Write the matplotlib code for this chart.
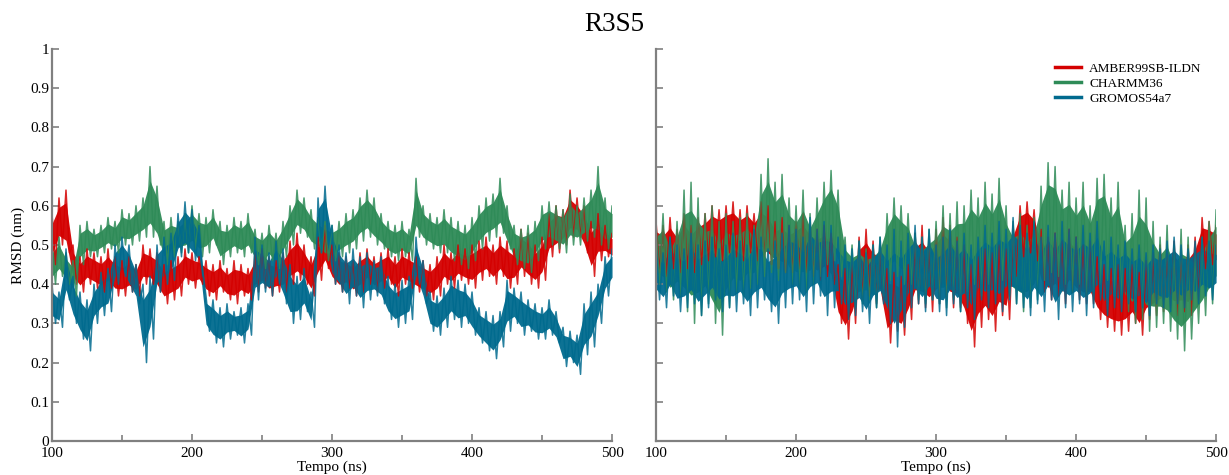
import numpy as np
import matplotlib
matplotlib.use('Agg')
import matplotlib.pyplot as plt

# Tempo (ns): pontos a cada 5 ns; os valores "hi" e "lo" são os picos e vales
tempo = list(range(100, 501, 5))

# Painel esquerdo
amber_l_hi = [0.58, 0.62, 0.64, 0.50, 0.47, 0.49, 0.48, 0.47, 0.49, 0.47, 0.46, 0.47, 0.45, 0.50, 0.49, 0.48,
              0.45, 0.46, 0.47, 0.49, 0.48, 0.47, 0.46, 0.45, 0.46, 0.44, 0.46, 0.45, 0.44, 0.48, 0.49, 0.47,
              0.46, 0.48, 0.51, 0.53, 0.50, 0.47, 0.52, 0.55, 0.50, 0.48, 0.47, 0.46, 0.48, 0.49, 0.47, 0.48,
              0.49, 0.47, 0.49, 0.48, 0.47, 0.46, 0.45, 0.47, 0.50, 0.48, 0.50, 0.49, 0.50, 0.51, 0.52, 0.50,
              0.52, 0.51, 0.49, 0.54, 0.53, 0.50, 0.52, 0.58, 0.60, 0.59, 0.64, 0.62, 0.60, 0.56, 0.58, 0.55, 0.53]
amber_l_lo = [0.45, 0.50, 0.48, 0.40, 0.38, 0.40, 0.39, 0.38, 0.39, 0.37, 0.37, 0.38, 0.37, 0.40, 0.40, 0.38,
              0.35, 0.36, 0.37, 0.40, 0.39, 0.40, 0.37, 0.36, 0.38, 0.36, 0.35, 0.37, 0.36, 0.38, 0.39, 0.37,
              0.38, 0.38, 0.40, 0.41, 0.40, 0.37, 0.41, 0.44, 0.40, 0.38, 0.39, 0.37, 0.38, 0.40, 0.38, 0.39,
              0.40, 0.37, 0.40, 0.39, 0.38, 0.37, 0.36, 0.37, 0.40, 0.39, 0.41, 0.40, 0.39, 0.41, 0.42, 0.40,
              0.42, 0.39, 0.40, 0.42, 0.40, 0.39, 0.41, 0.47, 0.48, 0.50, 0.52, 0.52, 0.48, 0.42, 0.46, 0.47, 0.46]
charmm_l_hi = [0.50, 0.52, 0.48, 0.46, 0.55, 0.56, 0.54, 0.55, 0.57, 0.56, 0.59, 0.58, 0.60, 0.62, 0.70, 0.65,
               0.56, 0.57, 0.56, 0.58, 0.60, 0.58, 0.57, 0.59, 0.56, 0.55, 0.57, 0.56, 0.58, 0.54, 0.53, 0.55,
               0.53, 0.56, 0.60, 0.64, 0.62, 0.59, 0.57, 0.56, 0.55, 0.56, 0.58, 0.59, 0.62, 0.64, 0.62, 0.58,
               0.56, 0.55, 0.56, 0.54, 0.67, 0.60, 0.58, 0.57, 0.59, 0.57, 0.56, 0.55, 0.57, 0.60, 0.62, 0.63,
               0.67, 0.60, 0.55, 0.54, 0.55, 0.56, 0.60, 0.61, 0.60, 0.59, 0.63, 0.60, 0.62, 0.64, 0.70, 0.62, 0.60]
charmm_l_lo = [0.40, 0.42, 0.40, 0.37, 0.45, 0.47, 0.47, 0.48, 0.49, 0.48, 0.50, 0.50, 0.51, 0.52, 0.52, 0.50,
               0.45, 0.47, 0.48, 0.48, 0.49, 0.47, 0.48, 0.50, 0.45, 0.47, 0.48, 0.47, 0.48, 0.45, 0.44, 0.46,
               0.44, 0.47, 0.50, 0.53, 0.52, 0.49, 0.48, 0.46, 0.46, 0.47, 0.48, 0.49, 0.51, 0.52, 0.50, 0.49,
               0.47, 0.46, 0.47, 0.46, 0.52, 0.50, 0.49, 0.48, 0.48, 0.46, 0.45, 0.44, 0.46, 0.49, 0.51, 0.52,
               0.53, 0.49, 0.45, 0.44, 0.43, 0.46, 0.49, 0.50, 0.49, 0.48, 0.50, 0.50, 0.51, 0.52, 0.50, 0.49, 0.50]
gromos_l_hi = [0.40, 0.38, 0.49, 0.42, 0.38, 0.36, 0.40, 0.43, 0.44, 0.50, 0.52, 0.50, 0.45, 0.40, 0.42, 0.50,
               0.52, 0.53, 0.58, 0.61, 0.59, 0.55, 0.37, 0.36, 0.34, 0.35, 0.33, 0.34, 0.35, 0.52, 0.50, 0.48,
               0.51, 0.49, 0.45, 0.42, 0.44, 0.38, 0.62, 0.65, 0.55, 0.50, 0.48, 0.49, 0.47, 0.48, 0.46, 0.47,
               0.42, 0.40, 0.41, 0.42, 0.52, 0.46, 0.38, 0.37, 0.39, 0.42, 0.41, 0.40, 0.38, 0.34, 0.33, 0.32,
               0.33, 0.41, 0.39, 0.38, 0.36, 0.35, 0.34, 0.36, 0.33, 0.29, 0.28, 0.27, 0.35, 0.38, 0.40, 0.47, 0.49]
gromos_l_lo = [0.30, 0.29, 0.36, 0.30, 0.26, 0.23, 0.30, 0.32, 0.33, 0.40, 0.42, 0.38, 0.35, 0.20, 0.26, 0.38,
               0.40, 0.41, 0.47, 0.48, 0.46, 0.44, 0.28, 0.25, 0.24, 0.26, 0.27, 0.25, 0.27, 0.36, 0.38, 0.37,
               0.40, 0.35, 0.30, 0.31, 0.33, 0.29, 0.48, 0.50, 0.40, 0.38, 0.35, 0.37, 0.34, 0.36, 0.37, 0.35,
               0.31, 0.29, 0.30, 0.31, 0.40, 0.35, 0.28, 0.27, 0.29, 0.31, 0.29, 0.30, 0.27, 0.25, 0.23, 0.21,
               0.24, 0.28, 0.30, 0.27, 0.28, 0.26, 0.26, 0.27, 0.25, 0.19, 0.20, 0.17, 0.22, 0.24, 0.30, 0.37, 0.40]

# Painel direito
amber_r_hi = [0.56, 0.55, 0.57, 0.54, 0.58, 0.55, 0.57, 0.58, 0.60, 0.59, 0.60, 0.61, 0.59, 0.60, 0.58, 0.61,
              0.60, 0.56, 0.57, 0.55, 0.56, 0.58, 0.55, 0.54, 0.55, 0.53, 0.45, 0.44, 0.46, 0.52, 0.54, 0.51,
              0.50, 0.44, 0.43, 0.42, 0.45, 0.53, 0.55, 0.52, 0.54, 0.57, 0.55, 0.52, 0.50, 0.45, 0.47, 0.49,
              0.48, 0.50, 0.49, 0.55, 0.60, 0.61, 0.59, 0.54, 0.52, 0.53, 0.51, 0.54, 0.52, 0.50, 0.51, 0.47,
              0.45, 0.44, 0.45, 0.44, 0.45, 0.43, 0.46, 0.48, 0.50, 0.49, 0.51, 0.48, 0.50, 0.52, 0.57, 0.56, 0.55]
amber_r_lo = [0.43, 0.42, 0.44, 0.43, 0.44, 0.43, 0.45, 0.46, 0.47, 0.46, 0.48, 0.47, 0.46, 0.48, 0.46, 0.47,
              0.45, 0.44, 0.43, 0.43, 0.44, 0.43, 0.42, 0.41, 0.42, 0.40, 0.30, 0.26, 0.30, 0.36, 0.37, 0.35,
              0.36, 0.25, 0.28, 0.27, 0.31, 0.35, 0.34, 0.33, 0.35, 0.36, 0.34, 0.34, 0.30, 0.24, 0.29, 0.31,
              0.28, 0.32, 0.31, 0.42, 0.47, 0.48, 0.46, 0.38, 0.36, 0.37, 0.35, 0.38, 0.36, 0.35, 0.35, 0.31,
              0.29, 0.28, 0.27, 0.28, 0.30, 0.27, 0.31, 0.32, 0.33, 0.34, 0.32, 0.33, 0.32, 0.36, 0.44, 0.45, 0.44]
charmm_r_hi = [0.55, 0.58, 0.52, 0.56, 0.64, 0.66, 0.62, 0.58, 0.60, 0.56, 0.58, 0.56, 0.57, 0.58, 0.55, 0.68,
               0.72, 0.66, 0.68, 0.62, 0.60, 0.64, 0.58, 0.62, 0.66, 0.69, 0.64, 0.52, 0.50, 0.51, 0.49, 0.50,
               0.52, 0.58, 0.62, 0.60, 0.58, 0.53, 0.52, 0.54, 0.56, 0.60, 0.58, 0.61, 0.60, 0.64, 0.62, 0.66,
               0.63, 0.67, 0.60, 0.56, 0.58, 0.55, 0.57, 0.65, 0.71, 0.70, 0.64, 0.66, 0.62, 0.66, 0.60, 0.67,
               0.68, 0.62, 0.66, 0.55, 0.58, 0.64, 0.62, 0.56, 0.52, 0.55, 0.50, 0.54, 0.52, 0.48, 0.52, 0.56, 0.59]
charmm_r_lo = [0.40, 0.38, 0.36, 0.37, 0.33, 0.30, 0.32, 0.35, 0.30, 0.27, 0.34, 0.38, 0.37, 0.39, 0.40, 0.42,
               0.43, 0.41, 0.43, 0.40, 0.39, 0.38, 0.40, 0.42, 0.45, 0.46, 0.42, 0.36, 0.34, 0.35, 0.36, 0.34,
               0.37, 0.41, 0.42, 0.40, 0.40, 0.36, 0.35, 0.36, 0.35, 0.34, 0.36, 0.33, 0.38, 0.40, 0.37, 0.40,
               0.38, 0.41, 0.37, 0.35, 0.33, 0.34, 0.36, 0.41, 0.43, 0.42, 0.40, 0.38, 0.40, 0.37, 0.38, 0.40,
               0.41, 0.37, 0.36, 0.33, 0.30, 0.31, 0.28, 0.29, 0.30, 0.28, 0.26, 0.23, 0.26, 0.30, 0.32, 0.35, 0.38]
gromos_r_hi = [0.50, 0.48, 0.52, 0.50, 0.49, 0.53, 0.50, 0.51, 0.52, 0.49, 0.50, 0.53, 0.51, 0.50, 0.54, 0.52,
               0.49, 0.51, 0.53, 0.55, 0.54, 0.52, 0.57, 0.54, 0.56, 0.55, 0.52, 0.50, 0.49, 0.51, 0.48, 0.50,
               0.52, 0.50, 0.54, 0.51, 0.53, 0.55, 0.52, 0.54, 0.50, 0.52, 0.54, 0.51, 0.53, 0.50, 0.52, 0.55,
               0.53, 0.56, 0.54, 0.57, 0.55, 0.53, 0.56, 0.52, 0.55, 0.53, 0.56, 0.54, 0.52, 0.55, 0.53, 0.56,
               0.51, 0.52, 0.50, 0.51, 0.49, 0.50, 0.48, 0.50, 0.49, 0.51, 0.52, 0.50, 0.49, 0.51, 0.52, 0.51, 0.50]
gromos_r_lo = [0.36, 0.34, 0.37, 0.33, 0.34, 0.35, 0.32, 0.34, 0.36, 0.33, 0.34, 0.33, 0.35, 0.32, 0.34, 0.36,
               0.33, 0.30, 0.34, 0.35, 0.36, 0.33, 0.35, 0.37, 0.32, 0.34, 0.35, 0.31, 0.32, 0.33, 0.30, 0.34,
               0.35, 0.30, 0.24, 0.29, 0.34, 0.35, 0.33, 0.36, 0.33, 0.32, 0.35, 0.33, 0.34, 0.31, 0.36, 0.34,
               0.35, 0.33, 0.36, 0.35, 0.34, 0.32, 0.35, 0.33, 0.36, 0.31, 0.34, 0.33, 0.35, 0.32, 0.34, 0.36,
               0.32, 0.34, 0.33, 0.35, 0.33, 0.34, 0.32, 0.35, 0.34, 0.33, 0.35, 0.34, 0.36, 0.35, 0.37, 0.36, 0.38]

nomes = ['AMBER99SB-ILDN', 'CHARMM36', 'GROMOS54a7']
cores = ['#d40000', '#2e8b57', '#006a8e']


def montar_serie(hi, lo):
    # intercala picos (em t) e vales (em t + 2.5 ns)
    t = np.empty(2 * len(tempo))
    y = np.empty(2 * len(tempo))
    t[0::2] = tempo
    t[1::2] = np.array(tempo) + 2.5
    y[0::2] = hi
    y[1::2] = lo
    return t, y


plt.rcParams['font.family'] = ['Liberation Serif', 'DejaVu Serif']

fig = plt.figure(figsize=(12.29, 4.75), dpi=100)
ax1 = fig.add_axes([0.0423, 0.0716, 0.4557, 0.8253])
ax2 = fig.add_axes([0.5338, 0.0716, 0.4557, 0.8253])

paineis = [
    (ax1, [(amber_l_hi, amber_l_lo), (charmm_l_hi, charmm_l_lo), (gromos_l_hi, gromos_l_lo)]),
    (ax2, [(amber_r_hi, amber_r_lo), (charmm_r_hi, charmm_r_lo), (gromos_r_hi, gromos_r_lo)]),
]

for ax, series in paineis:
    for (hi, lo), nome, cor in zip(series, nomes, cores):
        hi_a = np.array(hi)
        lo_a = np.array(lo)
        meio = (hi_a - lo_a) * 0.2
        # núcleo denso da faixa; os picos do traço saem dele
        ax.fill_between(tempo, lo_a + meio, hi_a - meio, color=cor, alpha=0.95, lw=0)
        t, y = montar_serie(hi, lo)
        ax.plot(t, y, color=cor, lw=1.1, alpha=0.85, label=nome)
    ax.set_xlim(100, 500)
    ax.set_ylim(0, 1)
    ax.set_xticks([100, 200, 300, 400, 500])
    ax.set_xticks([150, 250, 350, 450], minor=True)
    ax.set_yticks(np.arange(0, 1.01, 0.1))
    ax.spines['top'].set_visible(False)
    ax.spines['right'].set_visible(False)
    for s in ['left', 'bottom']:
        ax.spines[s].set_color('#808080')
        ax.spines[s].set_linewidth(1.6)
    ax.tick_params(which='both', direction='in', color='#808080', width=1.2, labelsize=11)
    ax.tick_params(which='major', length=5)
    ax.tick_params(which='minor', length=4)
    ax.tick_params(axis='x', pad=4)
    ax.tick_params(axis='y', pad=2)
    ax.set_xlabel('Tempo (ns)', fontsize=11, labelpad=1)

ax1.set_yticklabels(['0', '0.1', '0.2', '0.3', '0.4', '0.5', '0.6', '0.7', '0.8', '0.9', '1'])
ax1.set_ylabel('RMSD (nm)', fontsize=11, labelpad=4)
ax2.set_yticklabels([])

leg = ax2.legend(loc='upper right', bbox_to_anchor=(0.995, 0.995), frameon=False, fontsize=9.5,
                 handlelength=2.0, handletextpad=0.6, labelspacing=0.2)
for h in leg.get_lines():
    h.set_linewidth(2.5)
    h.set_alpha(1)

fig.text(0.5, 0.948, 'R3S5', fontsize=19.5, ha='center', va='center')

fig.savefig('out.png', dpi=100)
